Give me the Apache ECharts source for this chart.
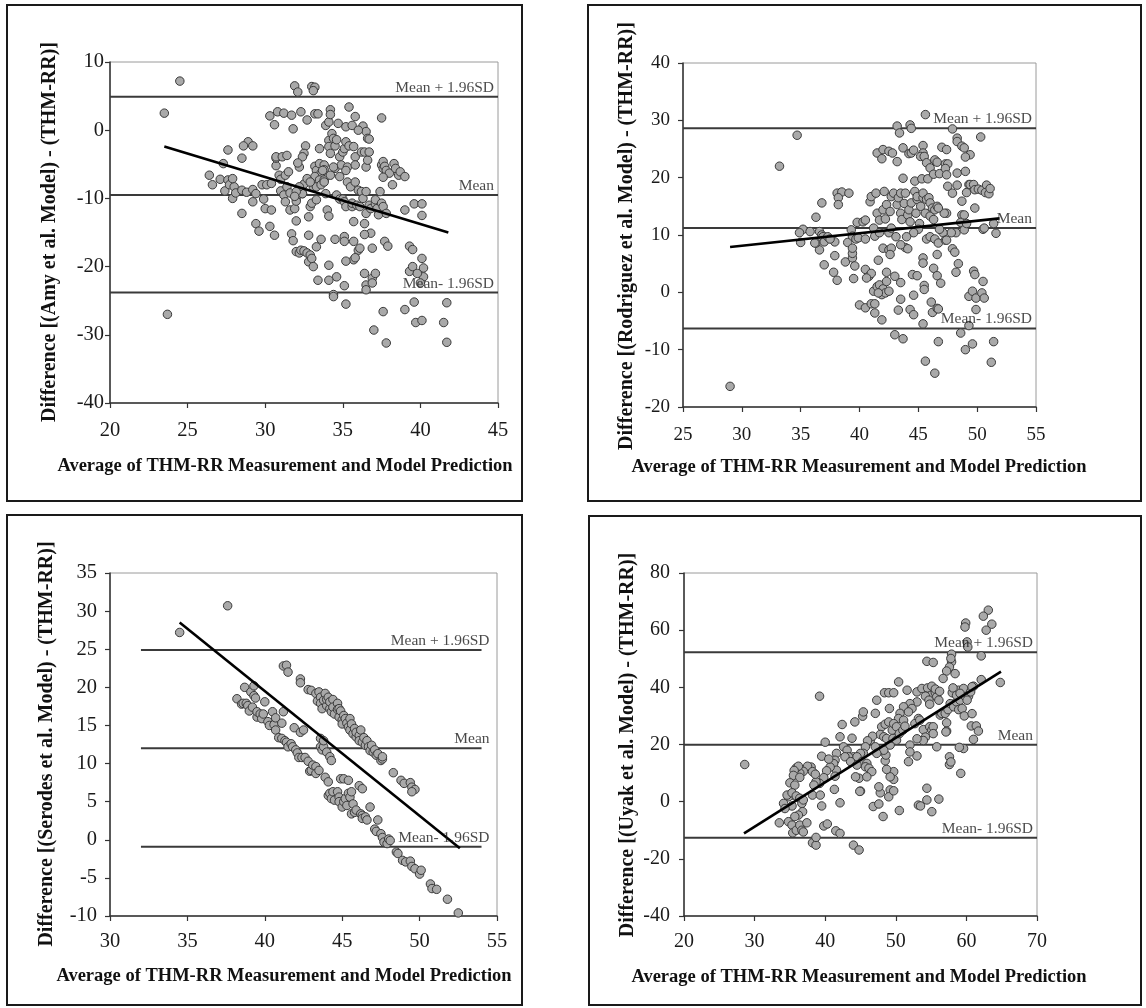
<!DOCTYPE html>
<html>
<head>
<meta charset="utf-8">
<script src="https://cdn.jsdelivr.net/npm/echarts@6/dist/echarts.min.js"></script>
<style>
html,body{margin:0;padding:0;background:#fff;}
#chart{width:1146px;height:1008px;}
</style>
</head>
<body>
<div id="chart"></div>
<script>
// ---------- DATA ----------
const limitNames = ['Mean + 1.96SD', 'Mean', 'Mean- 1.96SD'];
const xTitle = 'Average of THM-RR Measurement and Model Prediction';
const yTitles = [
  'Difference [(Amy et al. Model) - (THM-RR)]',
  'Difference [(Rodriguez et al. Model) - (THM-RR)]',
  'Difference [(Serodes et al. Model) - (THM-RR)]',
  'Difference [(Uyak et al. Model) - (THM-RR)]'
];

// axis ranges [min, max, interval]
const xAxesRange = [[20,45,5],[25,55,5],[30,55,5],[20,70,10]];
const yAxesRange = [[-40,10,10],[-20,40,10],[-10,35,5],[-40,80,20]];

// limits of agreement: [mean+1.96SD, mean, mean-1.96SD]
const amyLimits = [4.9, -9.5, -23.8];
const rodLimits = [28.6, 11.2, -6.3];
const serLimits = [24.9, 12.0, -0.9];
const uyaLimits = [52.3, 19.9, -12.6];
// x extent of the limit lines
const amyLimitX = [20, 45];
const rodLimitX = [25, 55];
const serLimitX = [32, 54];
const uyaLimitX = [20, 70];

// regression (trend) lines
const amyFit = [[23.5,-2.4],[41.8,-15.0]];
const rodFit = [[29.0,7.9],[51.9,12.9]];
const serFit = [[34.5,28.5],[52.6,-1.1]];
const uyaFit = [[28.5,-11.1],[64.9,45.5]];

const amyPoints = [
[24.5,7.2],[23.5,2.5],[23.7,-27.0],[31.9,6.5],[32.1,5.6],[33.0,6.4],[33.2,6.3],[33.1,5.8],[35.4,3.4],[37.5,1.8],
[30.3,2.1],[30.6,0.8],[30.8,2.7],[31.2,2.5],[31.7,2.2],[31.8,0.2],[32.3,2.7],[32.7,1.5],[33.2,2.4],[33.4,2.4],
[33.9,0.7],[34.1,1.2],[34.2,3.0],[34.2,2.3],[34.7,1.0],[35.2,0.5],[35.6,0.7],[35.8,2.0],[36.3,0.6],[36.5,-0.2],
[36.6,-1.2],[36.7,-1.3],[36.0,0.0],[27.6,-2.9],[28.5,-4.1],[28.9,-1.7],[28.6,-2.3],[29.2,-2.3],[27.3,-4.9],
[32.6,-2.3],[32.5,-3.4],[32.4,-3.9],[32.2,-5.4],[32.1,-4.8],[33.2,-5.3],[33.3,-5.9],[33.5,-4.9],[33.5,-2.7],
[33.6,-6.3],[33.8,-5.1],[33.8,-5.8],[34.1,-1.5],[34.1,-2.4],[34.2,-3.4],[34.3,-0.5],[34.4,-1.2],[34.5,-2.3],
[34.5,-5.6],[34.6,-1.4],[34.8,-3.9],[34.9,-5.1],[35.0,-3.2],[35.1,-2.7],[35.2,-1.7],[35.3,-5.4],[35.4,-2.3],
[35.7,-2.4],[35.8,-3.9],[35.8,-5.1],[36.2,-3.2],[36.4,-3.2],[36.5,-5.4],[36.6,-4.4],[36.7,-3.2],[37.5,-5.1],
[37.6,-4.6],[37.6,-5.6],[37.7,-5.3],[37.8,-5.9],[38.0,-6.3],[38.3,-4.9],[38.4,-5.6],[38.6,-6.6],[38.7,-6.1],
[39.0,-6.8],[38.2,-8.0],[37.6,-6.9],
[26.4,-6.6],[26.6,-8.0],[27.1,-7.2],[27.4,-8.9],[27.6,-7.3],[27.7,-8.0],[27.9,-10.0],[28.0,-8.3],[28.1,-9.2],
[27.9,-7.1],[28.5,-8.8],[28.8,-9.1],[29.2,-8.7],[29.4,-9.3],[28.5,-12.2],[29.2,-10.5],[29.4,-13.7],[29.6,-14.8],
[29.8,-8.0],[29.9,-10.1],[30.0,-11.5],[30.1,-8.0],[30.3,-14.1],[30.4,-7.8],[30.4,-11.7],[30.6,-15.4],[30.7,-5.2],
[30.7,-4.1],[30.7,-3.9],[30.9,-6.6],[31.0,-8.9],[31.0,-7.2],[31.1,-3.9],[31.3,-6.6],[31.2,-9.5],[31.3,-10.5],
[31.4,-3.7],[31.4,-8.3],[31.5,-6.1],[31.6,-9.2],[31.6,-11.7],[31.7,-15.2],[31.8,-16.2],[31.9,-11.5],[32.0,-10.0],
[32.0,-13.3],[32.0,-17.8],[32.0,-10.4],[32.2,-18.0],[32.3,-17.6],[32.4,-9.3],[32.5,-17.7],[32.7,-18.0],[32.8,-19.3],
[32.8,-15.4],[32.8,-12.7],[32.9,-18.3],[33.0,-18.8],[32.9,-11.2],[33.0,-10.7],[33.1,-8.3],[33.1,-20.0],[33.2,-6.8],
[33.3,-10.2],[33.3,-8.3],[33.3,-17.1],[33.4,-22.0],[33.5,-7.3],[33.6,-8.0],[33.6,-16.0],[33.7,-5.9],[33.8,-7.3],
[33.8,-7.6],[33.9,-9.3],[34.0,-11.7],[34.1,-12.6],[34.1,-19.8],[34.2,-6.6],[34.4,-5.4],[34.6,-9.5],[34.6,-21.5],
[34.8,-6.8],[34.8,-10.1],[35.0,-10.1],[35.1,-10.5],[35.2,-5.9],[35.2,-11.2],[35.3,-7.6],[35.5,-8.3],[35.6,-11.2],
[35.6,-10.7],[35.7,-13.4],[35.7,-16.3],[35.7,-19.0],[35.8,-7.6],[35.9,-11.0],[36.0,-8.8],[36.1,-11.2],[36.2,-9.0],
[36.3,-10.0],[36.4,-13.7],[36.5,-9.0],[36.5,-12.2],[36.7,-11.0],[36.8,-15.1],[36.8,-11.5],[36.9,-17.3],[37.1,-10.8],
[37.1,-10.2],[37.2,-11.5],[37.3,-12.4],[37.4,-9.0],[37.5,-10.7],[37.6,-11.2],[37.8,-12.2],[39.0,-11.7],[39.6,-10.8],
[40.1,-10.8],[40.1,-12.5],[39.3,-17.0],[39.5,-17.5],[37.7,-16.3],[37.9,-17.0],[36.4,-15.3],[36.5,-22.7],[36.4,-21.0],
[36.5,-23.4],[36.9,-21.7],[37.1,-21.0],[36.9,-22.4],[35.2,-19.2],[35.1,-22.8],[35.1,-15.6],[35.1,-16.3],[34.5,-16.0],
[34.4,-24.1],[34.4,-24.4],[34.1,-22.0],[35.2,-25.5],[36.0,-17.6],[35.8,-18.7],[36.1,-17.3],[40.1,-18.8],[40.2,-20.2],
[40.2,-21.5],[39.3,-20.7],[39.5,-20.0],[39.8,-21.0],[40.0,-22.4],[37.0,-29.3],[37.6,-26.6],[37.8,-31.2],[39.0,-26.3],
[39.6,-25.2],[39.7,-28.2],[40.1,-27.9],[41.5,-28.2],[41.7,-31.1],[41.7,-25.3],
[32.5,-7.9],[32.7,-7.1],[32.9,-7.6],[32.4,-9.3],[32.2,-8.3],[32.0,-9.0],[31.9,-9.7]
];

const rodPoints = [
[29.0,-16.4],[33.2,22.0],[34.7,27.4],[45.6,31.0],[43.2,29.0],[43.4,27.8],[44.3,29.2],[44.4,28.6],[47.9,28.5],
[48.3,26.9],[48.3,26.3],[50.3,27.1],[48.7,25.5],[48.9,25.2],[49.4,24.0],[49.0,23.6],[45.4,25.6],[45.4,24.3],
[45.2,23.7],[45.5,23.7],[45.7,22.6],[46.0,21.7],[46.4,23.1],[46.6,22.7],[47.0,25.3],[47.4,24.9],[47.3,22.4],
[47.5,22.4],[41.5,24.3],[41.9,23.3],[42.0,24.9],[42.5,24.6],[42.8,24.3],[43.2,22.8],[43.7,25.2],[44.2,24.2],
[44.4,24.3],[44.6,24.8],[43.7,19.9],[44.7,19.4],[45.3,19.8],[45.8,19.8],[46.3,20.6],[46.8,20.7],[47.3,21.6],
[47.4,20.5],[47.5,18.5],[48.3,20.8],[49.0,21.1],[47.9,17.3],[48.3,18.7],[49.1,17.4],[49.3,18.8],[49.4,18.8],
[49.7,18.8],[49.8,17.9],[50.1,18.0],[50.4,17.8],[50.8,18.7],[50.7,17.4],[51.0,17.2],[49.8,14.7],[51.4,12.0],
[51.6,10.3],[50.5,11.0],[48.7,13.5],[48.6,12.2],[48.2,10.4],[47.8,10.4],[48.9,10.9],[48.7,15.9],[38.1,17.3],
[38.5,17.5],[39.1,17.3],[38.2,16.5],[38.2,15.3],[36.8,15.6],[36.3,13.1],[36.6,7.4],[36.3,8.6],[37.0,4.8],
[37.9,6.4],[37.8,3.5],[38.1,2.1],[38.8,5.3],[39.4,6.0],[39.4,6.8],[39.6,4.6],[39.5,2.4],[39.0,8.7],[39.4,7.7],
[35.2,11.0],[34.9,10.4],[35.0,8.7],[35.8,10.6],[36.6,10.6],[36.8,10.0],[36.9,9.7],[36.2,8.6],[37.0,8.8],[37.3,9.7],
[37.9,8.8],[37.5,9.3],[39.3,10.9],[39.4,9.8],[39.7,9.3],[39.8,12.2],[39.9,9.5],[40.3,12.3],[40.5,12.6],[40.5,9.3],
[40.9,15.8],[41.0,16.7],[41.4,17.3],[41.5,13.8],[41.7,12.6],[41.2,11.2],[41.3,9.8],[41.7,10.4],[42.0,14.4],
[42.1,17.6],[42.2,12.8],[42.3,15.3],[42.5,10.4],[42.6,14.1],[42.7,11.2],[42.7,16.7],[42.9,17.3],[43.2,15.3],
[43.3,16.5],[43.5,17.3],[43.5,13.8],[43.6,12.7],[43.8,15.5],[43.9,17.3],[44.1,13.5],[44.2,14.4],[44.3,12.3],
[44.4,15.6],[44.7,17.6],[44.8,13.8],[44.9,16.2],[44.9,16.7],[45.1,12.0],[45.2,15.0],[45.4,16.5],[45.4,17.3],
[45.6,13.8],[45.7,16.2],[45.9,16.5],[46.0,13.3],[46.0,15.6],[46.2,14.7],[46.3,12.7],[46.4,14.4],[46.6,15.0],
[45.0,11.0],[44.6,10.4],[44.0,9.7],[43.9,7.8],[44.1,7.6],[43.1,9.7],[43.5,8.3],[42.0,7.7],[42.5,7.4],[42.7,7.7],
[42.6,6.6],[41.6,5.6],[45.7,9.3],[46.0,9.7],[46.4,9.3],[46.7,8.6],[47.1,10.4],[47.3,9.1],[46.8,11.0],[45.4,6.0],
[45.4,5.1],[46.3,4.2],[46.6,6.6],[46.6,2.9],[46.9,1.6],[40.5,4.0],[40.8,2.8],[41.0,3.3],[40.6,2.5],[41.2,0.2],
[41.5,1.0],[41.7,1.3],[42.0,0.6],[41.9,-0.4],[42.2,-0.1],[42.3,1.9],[42.5,0.2],[42.3,3.5],[41.6,-0.1],[43.0,2.8],
[43.5,1.7],[44.5,3.1],[44.9,2.9],[40.0,-2.2],[40.5,-2.7],[41.0,-2.0],[41.3,-2.0],[41.3,-3.6],[41.9,-4.8],
[43.5,-1.2],[43.3,-3.1],[44.3,-3.0],[44.6,-3.9],[44.6,-0.5],[45.5,1.2],[45.5,0.5],[45.4,-5.5],[46.1,-1.7],
[46.2,-3.5],[46.6,-2.8],[46.7,-2.9],[46.7,-8.6],[46.4,-14.1],[45.6,-12.0],[43.0,-7.4],[43.7,-8.1],[48.6,-7.1],
[49.0,-10.0],[49.6,-9.0],[51.4,-8.6],[51.2,-12.2],[49.3,-5.8],[49.3,-0.7],[49.6,0.2],[49.9,-1.0],[49.9,-3.0],
[50.5,1.9],[50.4,-0.1],[50.6,-1.0],[49.7,3.7],[49.8,3.1],[48.4,5.0],[48.2,3.5],[47.9,7.6],[48.1,7.0],[47.4,9.1],
[47.4,13.8],[47.2,13.8],[46.7,14.7],[51.1,18.1],[50.6,11.2],[49.1,12.0],[48.9,13.5]
];

const serPoints = [
[34.5,27.2],[37.6,30.7],
[38.2,18.5],[38.5,17.8],[38.6,17.9],[38.7,20.0],[38.8,17.9],[38.9,17.6],[39.0,16.9],[39.1,19.4],[39.2,17.4],
[39.3,18.9],[39.3,20.2],[39.4,18.6],[39.5,16.1],[39.5,16.8],[39.7,16.5],[39.8,15.9],[39.9,16.5],[40.0,18.1],
[40.2,15.5],[40.3,15.0],[40.5,16.8],[40.6,15.1],[40.7,14.4],[40.7,16.0],[40.9,13.4],[41.1,15.3],[41.1,13.3],
[41.2,16.8],[41.3,13.0],[41.4,12.8],[41.5,12.2],[41.7,12.6],[41.8,12.2],[41.9,14.7],[42.0,11.8],[42.1,11.4],
[42.2,10.8],[42.3,14.1],[42.4,10.8],[42.5,14.4],[42.6,10.8],[42.8,10.3],[42.9,9.0],[43.0,9.1],[43.1,9.8],
[43.3,9.6],[43.3,8.7],[43.5,9.1],[43.6,12.2],[43.7,11.8],[43.8,12.2],[43.9,8.2],[44.0,11.5],[44.1,7.6],[44.2,10.9],
[44.3,10.4],[44.1,5.8],[44.2,6.1],[44.3,5.4],[44.4,6.3],[44.5,5.2],[44.7,6.3],[44.8,5.6],[44.9,8.0],[44.8,5.0],
[45.0,4.3],[45.1,8.0],[45.1,5.0],[45.2,5.4],[45.3,4.5],[45.4,7.8],[45.4,6.1],[45.5,5.6],[45.6,3.4],[45.6,6.3],
[45.7,4.7],[45.8,3.6],[45.9,3.9],[46.1,7.1],[46.2,3.4],[46.3,3.2],[46.3,6.7],[46.3,2.8],[46.5,3.0],[46.6,2.6],
[46.8,4.3],[47.3,2.6],[47.1,1.4],[47.2,1.1],[47.5,0.8],[47.6,0.3],[47.7,-0.3],[47.9,-0.5],[48.0,0.1],[48.1,-0.1],
[48.5,-1.6],[48.6,-1.8],[48.9,-2.7],[49.1,-2.9],[49.4,-2.8],[49.5,-3.5],[49.7,-3.8],[50.0,-4.5],[50.1,-4.0],
[50.7,-5.8],[50.8,-6.4],[51.1,-6.5],[51.8,-7.8],[52.5,-9.6],[43.6,13.3],[43.8,13.0],
[41.2,22.8],[41.4,22.9],[41.5,22.0],[42.3,21.1],[42.3,20.6],[42.8,19.7],[43.0,19.6],[43.3,19.2],[43.4,18.2],
[43.5,19.4],[43.6,18.7],[43.6,17.9],[43.7,17.2],[43.8,18.3],[43.9,19.2],[44.0,17.6],[44.0,18.4],[44.1,18.7],
[44.2,17.2],[44.2,18.1],[44.3,16.8],[44.4,18.4],[44.4,17.4],[44.5,16.5],[44.7,17.9],[44.7,17.1],[44.8,16.1],
[44.8,17.2],[44.9,16.9],[45.0,15.7],[45.0,15.2],[45.1,16.3],[45.2,15.9],[45.3,15.3],[45.4,14.8],[45.5,15.9],
[45.5,14.4],[45.6,15.2],[45.7,13.9],[45.8,14.6],[45.9,13.5],[45.9,14.1],[46.1,13.7],[46.1,13.0],[46.2,14.4],
[46.3,12.8],[46.4,13.4],[46.5,12.4],[46.6,13.0],[46.7,12.2],[46.8,11.7],[46.9,12.4],[47.0,11.5],[47.1,11.8],
[47.2,11.1],[47.3,11.3],[47.5,10.4],[47.6,10.6],[47.6,10.9],[48.3,8.8],[48.8,7.8],[49.0,7.4],[49.4,7.5],
[49.5,6.9],[49.7,6.6],[49.5,6.3]
];

const uyaPoints = [
[28.6,13.0],[39.2,36.9],[40.0,20.8],[39.5,15.9],[60.1,55.9],[60.2,54.1],[59.9,62.5],[59.8,61.1],[63.1,67.0],
[62.4,64.9],[63.6,62.1],[62.8,60.0],[62.1,51.0],[64.8,41.7],[62.1,42.7],[57.9,51.6],[57.9,48.9],[57.6,47.1],
[57.2,45.7],[58.4,44.8],[57.8,50.1],[54.4,49.1],[55.3,48.7],[56.7,43.1],[58.0,38.1],[61.0,40.4],[50.4,41.9],
[51.6,39.0],[48.4,38.1],[49.0,38.1],[49.7,38.1],[47.3,35.5],[49.1,32.6],[53.0,38.4],[53.7,39.6],[54.5,39.8],
[55.1,40.4],[55.0,37.2],[55.6,38.1],[55.8,36.7],[56.1,35.5],[54.2,36.9],[54.7,35.5],[54.8,34.1],[53.0,34.9],
[52.0,34.3],[52.3,32.6],[51.1,33.2],[50.6,30.9],[50.4,29.1],[51.1,28.5],[51.8,31.4],[53.2,29.1],[52.7,27.3],
[53.4,28.5],[53.9,25.2],[54.8,26.2],[55.1,25.0],[55.3,26.2],[55.3,23.8],[54.2,22.6],[53.9,21.4],[55.8,19.2],
[56.3,30.3],[56.5,30.9],[57.0,30.9],[57.4,32.2],[57.2,27.6],[57.2,24.7],[57.7,34.3],[58.2,33.2],[58.6,34.9],
[58.9,32.2],[59.1,35.5],[59.4,32.6],[59.8,36.9],[58.9,39.0],[59.6,39.6],[60.3,36.9],[60.1,35.5],[60.6,38.4],
[60.8,40.2],[59.7,30.0],[60.8,30.8],[60.7,26.5],[61.0,21.8],[61.4,26.5],[61.7,24.7],[59.6,18.6],[59.0,19.0],
[59.2,9.9],[57.6,15.7],[57.6,13.0],[57.8,13.9],[57.1,24.4],[53.0,16.0],[53.0,22.0],[52.0,19.8],[51.8,14.0],
[52.0,17.4],[54.4,0.6],[55.1,-3.5],[56.1,0.9],[53.2,-1.2],[53.5,-1.5],[54.4,4.7],[50.5,-3.1],[49.2,4.1],
[49.0,1.7],[49.7,3.8],[49.7,7.8],[49.7,10.5],[49.2,8.7],[48.7,11.3],[48.5,14.3],[48.6,16.3],[48.3,18.0],
[47.8,3.1],[47.6,5.2],[46.8,-1.7],[47.6,-0.8],[48.2,-5.2],[45.0,3.7],[44.8,8.2],[44.3,8.7],[44.0,15.7],
[43.8,22.2],[44.2,27.9],[45.3,29.9],[45.4,31.4],[47.1,30.9],[48.0,26.2],[48.5,27.1],[49.0,27.9],[49.5,25.0],
[49.7,27.3],[50.1,26.2],[47.8,23.5],[48.3,22.7],[48.7,22.1],[49.2,19.8],[49.6,22.1],[50.1,21.5],[50.5,23.8],
[51.0,25.0],[51.3,26.4],[46.4,21.5],[46.7,22.9],[47.1,19.2],[47.3,16.9],[46.0,21.3],[45.7,19.2],[45.4,16.9],
[45.0,16.9],[44.5,15.7],[45.2,14.0],[45.9,13.4],[45.7,12.2],[46.2,11.7],[46.6,10.5],[45.9,8.7],[42.6,19.2],
[42.4,27.0],[42.1,22.7],[43.1,18.0],[43.3,15.7],[42.8,15.7],[43.6,14.0],[44.5,12.8],[41.6,16.9],[41.4,14.5],
[41.2,13.3],[41.6,11.0],[41.4,8.9],[40.7,12.1],[40.5,14.9],[40.2,10.8],[39.8,8.4],[39.2,6.4],[38.7,7.0],
[38.4,5.8],[38.2,2.3],[38.0,12.1],[37.5,12.4],[38.2,10.5],[38.6,9.6],[36.9,10.6],[36.4,10.0],[35.9,11.8],
[36.2,12.4],[35.6,10.9],[35.5,9.2],[36.4,8.5],[35.0,6.6],[35.7,5.8],[35.4,2.3],[34.8,1.7],[34.6,2.3],
[35.3,3.1],[35.9,2.0],[36.4,1.2],[35.3,-1.5],[34.1,-0.6],[34.3,-2.4],[33.5,-7.4],[34.8,-7.0],[35.3,-8.2],
[35.4,-10.9],[35.9,-10.0],[36.4,-8.2],[36.7,-10.0],[36.9,-10.6],[37.4,-7.4],[36.7,-0.6],[36.8,-3.5],[36.2,-4.7],
[35.7,-5.2],[36.9,0.6],[38.2,-14.4],[38.7,-15.2],[38.7,-12.5],[39.3,2.3],[39.5,-1.5],[39.8,-8.5],[40.3,-7.8],
[41.5,-10.2],[42.1,-11.1],[42.1,-0.4],[41.3,4.3],[44.0,-15.2],[44.8,-16.9],[44.9,3.6],[55.6,39.4],[56.2,38.6],
[58.1,39.8],[58.6,37.2],[59.1,37.9]
];

// ---------- LAYOUT ----------
const grids = [
  {left:110, top:62, width:388, height:341},
  {left:683, top:63, width:353, height:344},
  {left:110, top:573, width:387, height:343},
  {left:684, top:573, width:353, height:343}
];
const boxes = [[7,5,515,496],[588,5,553,496],[7,515,515,490],[589,516,552,489]];
const tickFont = [20.5, 19, 20.5, 20];
const xLabelMargin = [17, 19, 15, 16];
const yLabelMargin = [6, 13, 13, 14];
const xTitlePos = [[285,466],[859,467],[284,976],[859,977]];
const yTitlePos = [[50,232],[627,236],[47,744],[628,745]];
const labelOffsetX = [-4, -4, 8, -4];

const FONT = '"Liberation Serif","Times New Roman",serif';
const panels = [
  {pts:amyPoints, lim:amyLimits, limX:amyLimitX, fit:amyFit},
  {pts:rodPoints, lim:rodLimits, limX:rodLimitX, fit:rodFit},
  {pts:serPoints, lim:serLimits, limX:serLimitX, fit:serFit},
  {pts:uyaPoints, lim:uyaLimits, limX:uyaLimitX, fit:uyaFit}
];

const option = {
  animation:false,
  backgroundColor:'#fff',
  grid: grids.map(g => Object.assign({show:true, borderColor:'#9a9a9a', borderWidth:1, backgroundColor:'transparent'}, g)),
  xAxis: xAxesRange.map((r,i) => ({
    type:'value', gridIndex:i, min:r[0], max:r[1], interval:r[2],
    axisLine:{show:true, onZero:false, lineStyle:{color:'#333', width:1.5}},
    axisTick:{show:true, inside:false, length:5, lineStyle:{color:'#333', width:1.2}},
    axisLabel:{fontFamily:FONT, fontSize:tickFont[i], color:'#1a1a1a', margin:xLabelMargin[i]},
    splitLine:{show:false}
  })),
  yAxis: yAxesRange.map((r,i) => ({
    type:'value', gridIndex:i, min:r[0], max:r[1], interval:r[2],
    axisLine:{show:true, onZero:false, lineStyle:{color:'#333', width:1.5}},
    axisTick:{show:true, inside:false, length:5, lineStyle:{color:'#333', width:1.2}},
    axisLabel:{fontFamily:FONT, fontSize:tickFont[i], color:'#1a1a1a', margin:yLabelMargin[i]},
    splitLine:{show:false}
  })),
  series: [],
  graphic: []
};

panels.forEach((p,i) => {
  // limit lines
  p.lim.forEach((v,k) => {
    option.series.push({
      type:'line', xAxisIndex:i, yAxisIndex:i, z:2,
      data:[[p.limX[0], v],[p.limX[1], v]],
      showSymbol:false, symbol:'none',
      lineStyle:{color:'#3a3a3a', width:2},
      silent:true
    });
    option.series.push({
      type:'scatter', xAxisIndex:i, yAxisIndex:i, z:6,
      data:[[p.limX[1], v]],
      symbolSize:0.1,
      itemStyle:{color:'rgba(0,0,0,0)'},
      label:{show:true, position:'top', align:'right', verticalAlign:'bottom', distance:1,
             offset:[labelOffsetX[i],0], formatter:limitNames[k],
             fontFamily:FONT, fontSize:15.5, color:'#1a1a1a'},
      silent:true
    });
  });
  // scatter points
  option.series.push({
    type:'scatter', xAxisIndex:i, yAxisIndex:i, z:3,
    data:p.pts, symbol:'circle', symbolSize:8.5,
    itemStyle:{color:'#a9a9a9', borderColor:'#3a3a3a', borderWidth:1, opacity:1}
  });
  // regression line
  option.series.push({
    type:'line', xAxisIndex:i, yAxisIndex:i, z:4,
    data:p.fit, showSymbol:false, symbol:'none',
    lineStyle:{color:'#000', width:2.6}, silent:true
  });
  // outer box
  const b = boxes[i];
  option.graphic.push({type:'rect', z:0, shape:{x:b[0], y:b[1], width:b[2], height:b[3]},
    style:{fill:'none', stroke:'#1a1a1a', lineWidth:2}, silent:true});
  // titles
  option.graphic.push({type:'text', x:xTitlePos[i][0], y:xTitlePos[i][1], z:10,
    style:{text:xTitle, font:'bold 18.5px ' + FONT, fill:'#111', textAlign:'center', textVerticalAlign:'middle'}});
  option.graphic.push({type:'text', x:yTitlePos[i][0], y:yTitlePos[i][1], rotation:Math.PI/2, z:10,
    style:{text:yTitles[i], font:'bold 20px ' + FONT, fill:'#111', textAlign:'center', textVerticalAlign:'middle'}});
});

const chart = echarts.init(document.getElementById('chart'), null, {renderer:'canvas'});
chart.setOption(option);
</script>
</body>
</html>
